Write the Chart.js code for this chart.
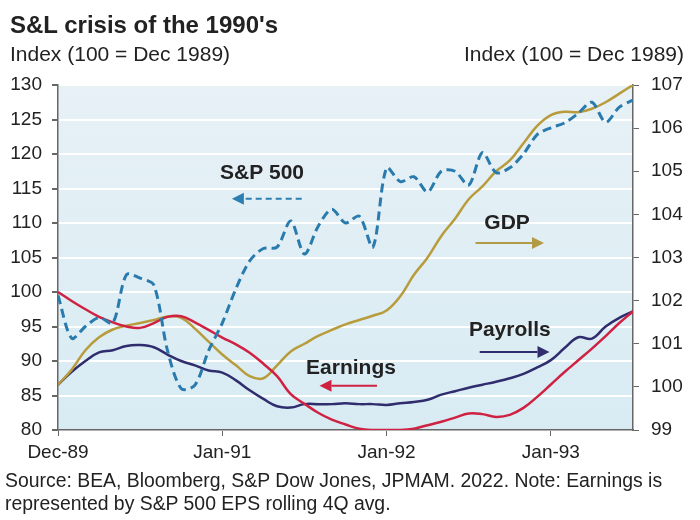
<!DOCTYPE html>
<html>
<head>
<meta charset="utf-8">
<script src="https://cdn.jsdelivr.net/npm/chart.js@4.4.1/dist/chart.umd.min.js"></script>
<style>
  body { margin: 0; background: #fff; }
  #wrap { position: relative; width: 700px; height: 520px; font-family: "Liberation Sans", Arial, sans-serif; color: #222; }
  #wrap canvas { position: absolute; left: 0; top: 0; }
  .txt { position: absolute; white-space: nowrap; line-height: 1; }
</style>
</head>
<body>
<div id="wrap">
  <canvas id="chart" width="700" height="520"></canvas>
  <div class="txt" style="left:10px; top:13px; font-size:24px; font-weight:bold;">S&amp;L crisis of the 1990's</div>
  <div class="txt" style="left:10px; top:43px; font-size:21px;">Index (100 = Dec 1989)</div>
  <div class="txt" style="right:16px; top:43px; font-size:21px;">Index (100 = Dec 1989)</div>
  <div class="txt" style="left:5px; top:471px; font-size:19.4px;">Source: BEA, Bloomberg, S&amp;P Dow Jones, JPMAM. 2022. Note: Earnings is</div>
  <div class="txt" style="left:5px; top:494px; font-size:19.4px;">represented by S&amp;P 500 EPS rolling 4Q avg.</div>
</div>
<script>
// months since Dec-89, one value per month
const tickMonths = [0, 12, 24, 36];
const tickLabels = ['Dec-89', 'Jan-91', 'Jan-92', 'Jan-93'];

// left axis
const sp500 = [99.5, 93.3, 95, 96.3, 95.5, 102.5, 102, 101, 91.5, 86, 86.5, 91.5, 95.5, 100.5,
  104.5, 106.3, 106.5, 110.3, 105.5, 109.5, 112, 110, 111, 106.5, 118, 116, 116.7, 114.5,
  117.5, 117.5, 115.5, 120.2, 117.3, 118, 120, 122.8, 123.8, 124.5, 125.9, 127.5, 124.6, 126.8, 127.8];
const earnings = [100, 98.7, 97.5, 96.4, 95.6, 95, 94.8, 95.5, 96.4, 96.5, 95.6, 94.5, 93.4, 92.4,
  91.2, 89.6, 87.8, 85.2, 83.8, 82.5, 81.5, 80.8, 80.2, 80, 80, 80, 80.2, 80.7,
  81.2, 81.8, 82.4, 82.3, 81.9, 82.2, 83.2, 84.8, 86.6, 88.4, 90.1, 91.8, 93.6, 95.5, 97.2];

// right axis
const payrolls = [100.05, 100.35, 100.6, 100.8, 100.85, 100.95, 100.97, 100.92, 100.75, 100.6, 100.5, 100.38, 100.33, 100.15,
  99.92, 99.72, 99.55, 99.52, 99.6, 99.6, 99.6, 99.62, 99.6, 99.6, 99.58, 99.62, 99.65, 99.7,
  99.82, 99.9, 99.98, 100.05, 100.12, 100.2, 100.3, 100.45, 100.62, 100.9, 101.15, 101.12, 101.4, 101.6, 101.75];
const gdp = [100.05, 100.4, 100.85, 101.15, 101.33, 101.42, 101.48, 101.55, 101.63, 101.6, 101.35, 101.05, 100.75, 100.5,
  100.25, 100.2, 100.5, 100.82, 101.0, 101.18, 101.32, 101.45, 101.55, 101.65, 101.77, 102.1, 102.6, 103.0,
  103.5, 103.9, 104.35, 104.65, 105.0, 105.25, 105.65, 106.05, 106.3, 106.38, 106.37, 106.45, 106.6, 106.8, 107.0];

// series labels placed in month / left-axis units, arrow tip at "to"
const notes = [
  { text: 'S&P 500', color: '#2e7fb1', x: 14.9, y: 117.2, ay: 113.5, from: 17.8, to: 12.7, dashed: true },
  { text: 'GDP', color: '#b39a45', x: 32.8, y: 110.0, ay: 107.1, from: 30.5, to: 35.5 },
  { text: 'Earnings', color: '#cf2242', x: 21.4, y: 89.0, ay: 86.4, from: 23.3, to: 19.1 },
  { text: 'Payrolls', color: '#2f2d6d', x: 33.0, y: 94.5, ay: 91.3, from: 30.8, to: 35.9 }
];

const toPoints = arr => arr.map((v, i) => ({ x: i, y: v }));

const plotBackground = {
  id: 'plotBackground',
  beforeDraw(chart) {
    const { ctx, chartArea: a } = chart;
    const g = ctx.createLinearGradient(0, a.top, 0, a.bottom);
    g.addColorStop(0, '#e7f1f6');
    g.addColorStop(1, '#d8ebf3');
    ctx.save();
    ctx.fillStyle = g;
    ctx.fillRect(a.left, a.top, a.right - a.left, a.bottom - a.top);
    ctx.restore();
  }
};

const seriesNotes = {
  id: 'seriesNotes',
  afterDatasetsDraw(chart) {
    const { ctx, scales: { x, y } } = chart;
    ctx.save();
    notes.forEach(n => {
      ctx.font = 'bold 21px "Liberation Sans", Arial, sans-serif';
      ctx.fillStyle = '#222';
      ctx.textAlign = 'center';
      ctx.textBaseline = 'middle';
      ctx.fillText(n.text, x.getPixelForValue(n.x), y.getPixelForValue(n.y));

      const ay = y.getPixelForValue(n.ay);
      const x0 = x.getPixelForValue(n.from);
      const x1 = x.getPixelForValue(n.to);
      const dir = Math.sign(x1 - x0);
      const head = 12;
      ctx.strokeStyle = n.color;
      ctx.fillStyle = n.color;
      ctx.lineWidth = 2;
      ctx.setLineDash(n.dashed ? [6, 4] : []);
      ctx.beginPath();
      ctx.moveTo(x0, ay);
      ctx.lineTo(x1 - dir * head, ay);
      ctx.stroke();
      ctx.setLineDash([]);
      ctx.beginPath();
      ctx.moveTo(x1, ay);
      ctx.lineTo(x1 - dir * head, ay - 6);
      ctx.lineTo(x1 - dir * head, ay + 6);
      ctx.closePath();
      ctx.fill();
    });
    ctx.restore();
  }
};

const tickFont = { family: '"Liberation Sans", Arial, sans-serif', size: 19 };

new Chart(document.getElementById('chart'), {
  type: 'line',
  data: {
    datasets: [
      {
        label: 'S&P 500', data: toPoints(sp500), yAxisID: 'y',
        borderColor: '#2a7bad', borderWidth: 3, borderDash: [9, 5], tension: 0.3
      },
      {
        label: 'Earnings', data: toPoints(earnings), yAxisID: 'y',
        borderColor: '#cf2242', borderWidth: 2.5, tension: 0.4
      },
      {
        label: 'GDP', data: toPoints(gdp), yAxisID: 'y1',
        borderColor: '#b89c3c', borderWidth: 2.5, tension: 0.4
      },
      {
        label: 'Payrolls', data: toPoints(payrolls), yAxisID: 'y1',
        borderColor: '#2f2d6d', borderWidth: 2.5, tension: 0.4
      }
    ]
  },
  options: {
    responsive: false,
    animation: false,
    devicePixelRatio: 1,
    layout: { padding: { top: 85, left: 0, right: 0, bottom: 0 } },
    elements: { point: { radius: 0 } },
    plugins: { legend: { display: false }, tooltip: { enabled: false } },
    scales: {
      x: {
        type: 'linear', min: 0, max: 42,
        afterBuildTicks: axis => { axis.ticks = tickMonths.map(v => ({ value: v })); },
        afterFit: axis => { axis.height = 90; },
        ticks: {
          autoSkip: false, maxRotation: 0, padding: 5, color: '#222', font: tickFont,
          callback: v => tickLabels[tickMonths.indexOf(v)]
        },
        grid: { drawOnChartArea: false, tickLength: 6, tickColor: '#666' },
        border: { color: '#666', width: 1.5 }
      },
      y: {
        position: 'left', min: 80, max: 130,
        afterFit: axis => { axis.width = 58; },
        ticks: { stepSize: 5, padding: 10, color: '#222', font: tickFont },
        grid: { color: '#ffffff', lineWidth: 2, tickLength: 6, tickColor: '#666' },
        border: { color: '#666', width: 1.5 }
      },
      y1: {
        position: 'right', min: 99, max: 107,
        afterFit: axis => { axis.width = 67; },
        ticks: { stepSize: 1, padding: 12, color: '#222', font: tickFont },
        grid: { drawOnChartArea: false, tickLength: 6, tickColor: '#666' },
        border: { color: '#666', width: 1.5 }
      }
    }
  },
  plugins: [plotBackground, seriesNotes]
});
</script>
</body>
</html>
